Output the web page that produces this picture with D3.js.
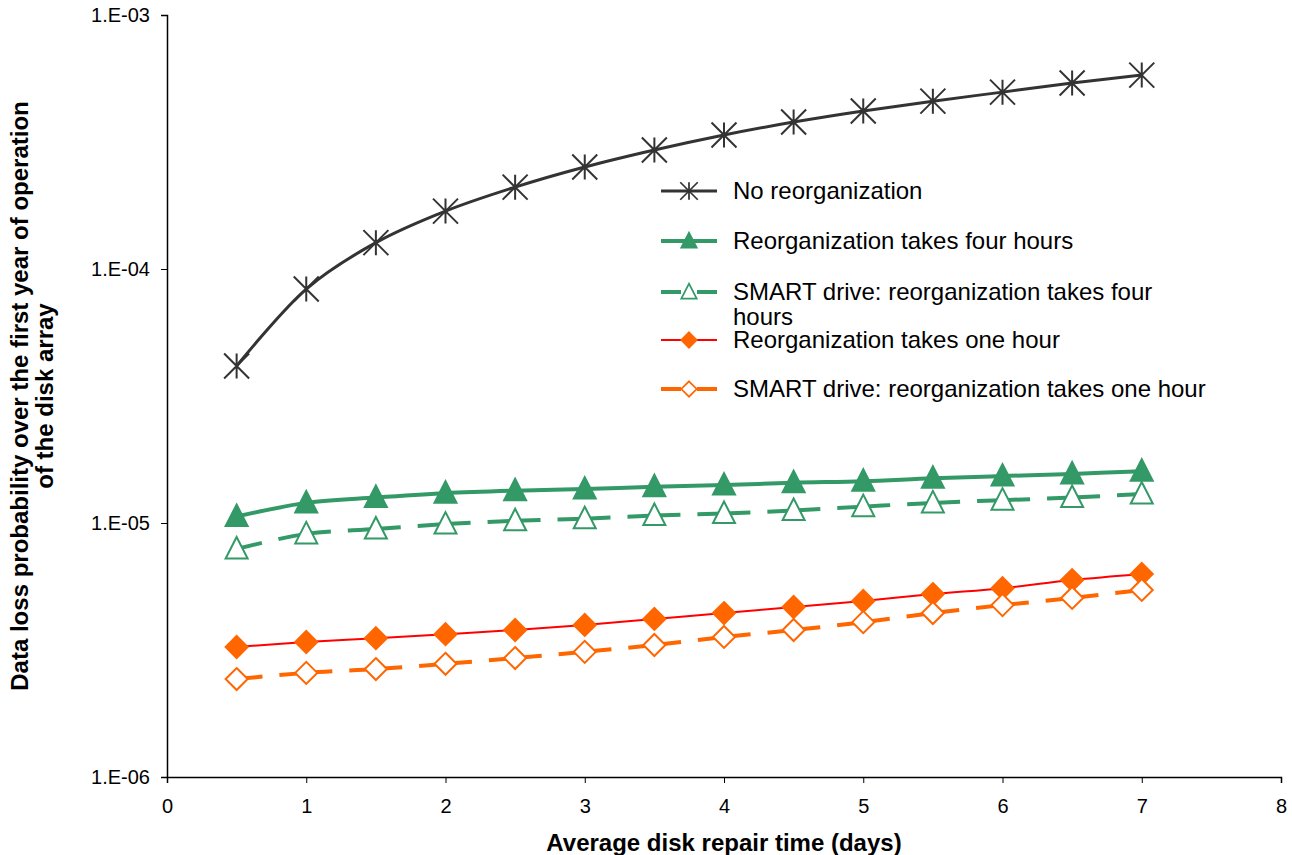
<!DOCTYPE html>
<html>
<head>
<meta charset="utf-8">
<script src="https://cdn.jsdelivr.net/npm/d3@7"></script>
<style>
  body { margin: 0; background: #fff; }
  text { font-family: "Liberation Sans", Arial, sans-serif; }
</style>
</head>
<body>
<div id="chart"></div>
<script>
// data
var days = [0.5, 1, 1.5, 2, 2.5, 3, 3.5, 4, 4.5, 5, 5.5, 6, 6.5, 7];
var noReorg = [4.15e-5, 8.34e-5, 1.27e-4, 1.69e-4, 2.10e-4, 2.52e-4, 2.94e-4, 3.37e-4, 3.79e-4, 4.19e-4, 4.58e-4, 4.97e-4, 5.40e-4, 5.80e-4];
var reorgFour = [1.06e-5, 1.20e-5, 1.26e-5, 1.31e-5, 1.34e-5, 1.36e-5, 1.39e-5, 1.41e-5, 1.44e-5, 1.46e-5, 1.50e-5, 1.53e-5, 1.56e-5, 1.60e-5];
var smartFour = [7.9e-6, 9.06e-6, 9.47e-6, 9.9e-6, 1.02e-5, 1.04e-5, 1.07e-5, 1.09e-5, 1.12e-5, 1.16e-5, 1.20e-5, 1.23e-5, 1.26e-5, 1.30e-5];
var reorgOne = [3.25e-6, 3.40e-6, 3.52e-6, 3.65e-6, 3.79e-6, 3.97e-6, 4.19e-6, 4.42e-6, 4.67e-6, 4.93e-6, 5.25e-6, 5.54e-6, 5.96e-6, 6.30e-6];
var smartOne = [2.43e-6, 2.57e-6, 2.66e-6, 2.79e-6, 2.94e-6, 3.11e-6, 3.31e-6, 3.56e-6, 3.79e-6, 4.07e-6, 4.42e-6, 4.75e-6, 5.07e-6, 5.45e-6];
var xTicks = [0, 1, 2, 3, 4, 5, 6, 7, 8];
var yTicks = [1e-6, 1e-5, 1e-4, 1e-3];
var yTickLabels = ["1.E-06", "1.E-05", "1.E-04", "1.E-03"];

var series = [
  {name: "No reorganization", values: noReorg, line: "#333333", width: 3, dash: null, marker: "star", fill: "none", mstroke: "#333333"},
  {name: "Reorganization takes four hours", values: reorgFour, line: "#339966", width: 4, dash: null, marker: "tri", fill: "#339966", mstroke: "#339966"},
  {name: "SMART drive: reorganization takes four|hours", values: smartFour, line: "#339966", width: 4, dash: true, marker: "tri", fill: "#fff", mstroke: "#339966"},
  {name: "Reorganization takes one hour", values: reorgOne, line: "#ff0000", width: 2, dash: null, marker: "dia", fill: "#ff6600", mstroke: "#ff6600"},
  {name: "SMART drive: reorganization takes one hour", values: smartOne, line: "#ff6600", width: 4, dash: true, marker: "dia", fill: "#fff", mstroke: "#ff6600"}
];

var W = 1292, H = 855;
var margin = {top: 15, right: 12, bottom: 78, left: 167};
var width = W - margin.left - margin.right,
    height = H - margin.top - margin.bottom;

var svg = d3.select("#chart").append("svg")
    .attr("width", W)
    .attr("height", H);
var g = svg.append("g")
    .attr("transform", "translate(" + margin.left + "," + margin.top + ")");

var x = d3.scaleLinear().domain([0, 8]).range([0, width + 1]);
var y = d3.scaleLog().domain([1e-6, 1e-3]).range([height, 0]);

// axes
var xAxis = g.append("g")
    .attr("transform", "translate(0," + height + ")")
    .call(d3.axisBottom(x).tickValues(xTicks).tickSize(6).tickPadding(16).tickFormat(d3.format("d")));
var yAxis = g.append("g")
    .call(d3.axisLeft(y).tickValues(yTicks).tickSize(6).tickPadding(11)
      .tickFormat(function(d, i) { return yTickLabels[i]; }));
[xAxis, yAxis].forEach(function(a) {
  a.attr("font-size", null).attr("font-family", null);
  a.select(".domain").attr("stroke", "#000").attr("stroke-width", 1.5);
  a.selectAll(".tick line").attr("stroke", "#000").attr("stroke-width", 1);
  a.selectAll("text").style("font-size", "20px").attr("fill", "#000");
});

// lines
var line = d3.line()
    .x(function(d) { return x(d[0]); })
    .y(function(d) { return y(d[1]); })
    .curve(d3.curveCatmullRom.alpha(0.5));

function markerPath(type) {
  if (type == "star") return "M0,-12.5V12.5M-12.5,-12.5L12.5,12.5M12.5,-12.5L-12.5,12.5";
  if (type == "tri") return "M0,-12L11,9.5H-11Z";
  return "M0,-11L11,0L0,11L-11,0Z";
}

series.forEach(function(s) {
  var pts = days.map(function(d, i) { return [d, s.values[i]]; });
  var p = g.append("path")
      .datum(pts)
      .attr("d", line)
      .attr("fill", "none")
      .attr("stroke", s.line)
      .attr("stroke-width", s.width);
  if (s.dash) p.attr("stroke-dasharray", "53,17").attr("stroke-dashoffset", 27);

  g.append("g").selectAll("path")
      .data(pts)
    .enter().append("path")
      .attr("transform", function(d) { return "translate(" + x(d[0]) + "," + y(d[1]) + ")"; })
      .attr("d", markerPath(s.marker))
      .attr("fill", s.fill)
      .attr("stroke", s.mstroke)
      .attr("stroke-width", 2);
});

// legend
var legY = [191, 241, 292, 340, 389];
var legend = svg.append("g");
series.forEach(function(s, i) {
  var row = legend.append("g").attr("transform", "translate(0," + legY[i] + ")");
  var ln = row.append("line")
      .attr("x1", 661).attr("x2", 717)
      .attr("stroke", s.line).attr("stroke-width", s.width);
  if (s.dash) ln.attr("stroke-dasharray", "20,16");
  row.append("path")
      .attr("transform", "translate(689,0) scale(0.7)")
      .attr("d", markerPath(s.marker))
      .attr("fill", s.fill)
      .attr("stroke", s.mstroke)
      .attr("stroke-width", 2.5);
  var t = row.append("text")
      .attr("x", 733).attr("y", 8)
      .style("font-size", "24px");
  s.name.split("|").forEach(function(part, j) {
    t.append("tspan").attr("x", 733).attr("dy", j == 0 ? 0 : 25).text(part);
  });
});

// axis titles
svg.append("text")
    .attr("x", 724).attr("y", 851)
    .attr("text-anchor", "middle")
    .style("font-size", "24px").style("font-weight", "bold")
    .text("Average disk repair time (days)");

var yt = svg.append("text")
    .attr("transform", "translate(28,396) rotate(-90)")
    .attr("text-anchor", "middle")
    .style("font-size", "24px").style("font-weight", "bold");
yt.append("tspan").attr("x", 0).attr("dy", 0).text("Data loss probability over the  first year of operation");
yt.append("tspan").attr("x", 0).attr("dy", 25).text("of the disk array");
</script>
</body>
</html>
